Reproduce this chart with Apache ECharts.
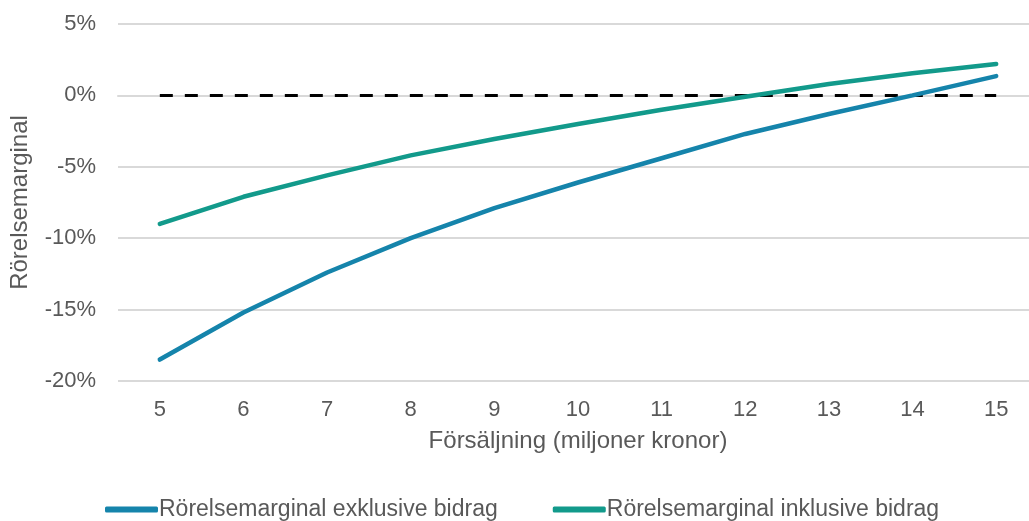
<!DOCTYPE html>
<html>
<head>
<meta charset="utf-8">
<script src="https://cdn.jsdelivr.net/npm/echarts@6/dist/echarts.min.js"></script>
<style>html,body{margin:0;padding:0;background:#fff;overflow:hidden}#c{width:1040px;height:521px}</style>
</head>
<body>
<div id="c"></div>
<script>
const categories = ['5','6','7','8','9','10','11','12','13','14','15'];
const exklusive = [-18.5, -15.2, -12.4, -10.0, -7.9, -6.1, -4.4, -2.7, -1.3, 0.0, 1.35];
const inklusive = [-9.0, -7.1, -5.6, -4.2, -3.05, -2.0, -1.0, -0.1, 0.8, 1.55, 2.2];
const zeroLine = [0,0,0,0,0,0,0,0,0,0,0];
const seriesNames = ['Rörelsemarginal exklusive bidrag', 'Rörelsemarginal inklusive bidrag'];
const yTicks = { min: -20, max: 5, interval: 5 };

const font = 'Liberation Sans, Arial, sans-serif';
const txt = '#595959';
const chart = echarts.init(document.getElementById('c'));
chart.setOption({
  animation: false,
  textStyle: { fontFamily: font },
  grid: { left: 116, right: 2, top: 24, bottom: 140, containLabel: false },
  legend: {
    data: seriesNames,
    left: 105, top: 498, padding: 0,
    icon: 'roundRect', itemWidth: 53, itemHeight: 6, itemGap: 55,
    textStyle: { fontFamily: font, fontSize: 23, color: txt, padding: [0,0,0,-4] }
  },
  xAxis: {
    type: 'category', data: categories, boundaryGap: true,
    name: 'Försäljning (miljoner kronor)', nameLocation: 'middle', nameGap: 48,
    nameTextStyle: { fontFamily: font, fontSize: 24, color: txt },
    axisLine: { show: true, lineStyle: { color: '#d9d9d9', width: 2 } },
    axisTick: { show: false },
    axisLabel: { fontFamily: font, fontSize: 22, color: txt, margin: 18 }
  },
  yAxis: {
    type: 'value', min: yTicks.min, max: yTicks.max, interval: yTicks.interval,
    name: 'Rörelsemarginal', nameLocation: 'middle', nameGap: 86,
    nameTextStyle: { fontFamily: font, fontSize: 24, color: txt },
    axisLine: { show: false }, axisTick: { show: false },
    axisLabel: { fontFamily: font, fontSize: 22, color: txt, margin: 22, formatter: v => v + '%' },
    splitLine: { lineStyle: { color: '#d9d9d9', width: 2 } }
  },
  series: [
    { name: 'zero', type: 'line', data: zeroLine, symbol: 'none', z: 1,
      lineStyle: { color: '#000', width: 3, type: [13, 12] } },
    { name: seriesNames[0], type: 'line', data: exklusive, symbol: 'none', z: 3,
      itemStyle: { color: '#1584ab' },
      lineStyle: { color: '#1584ab', width: 4.5, cap: 'round' } },
    { name: seriesNames[1], type: 'line', data: inklusive, symbol: 'none', z: 3,
      itemStyle: { color: '#129a8b' },
      lineStyle: { color: '#129a8b', width: 4.5, cap: 'round' } }
  ]
});
</script>
</body>
</html>
